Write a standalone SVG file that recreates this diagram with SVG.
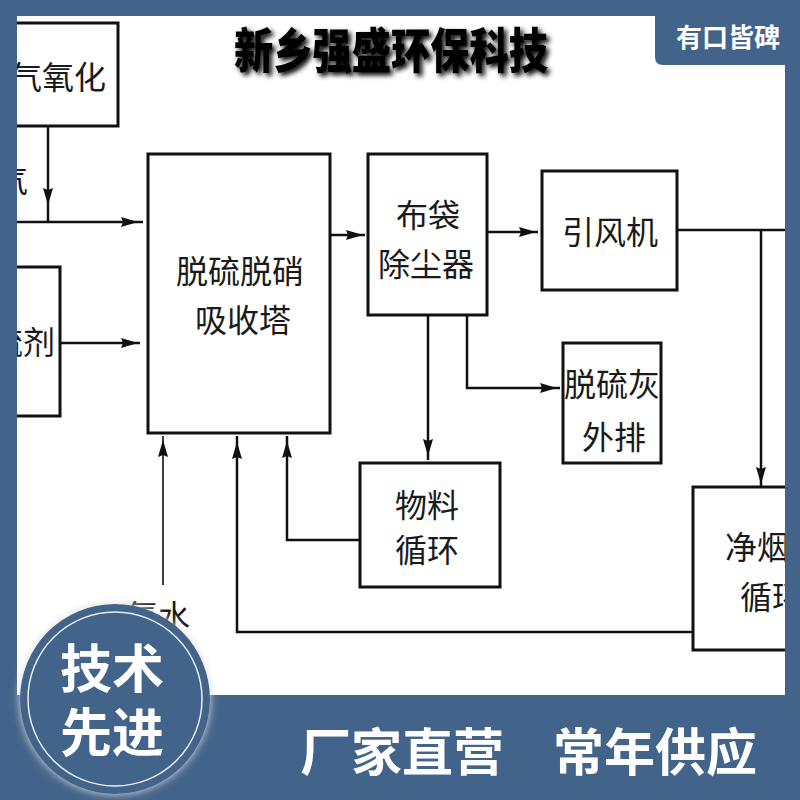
<svg xmlns="http://www.w3.org/2000/svg" xmlns:xlink="http://www.w3.org/1999/xlink" width="800" height="800" viewBox="0 0 800 800">
<defs>
<style>
.bx{fill:#fff;stroke:#111;stroke-width:3}
.ln{fill:none;stroke:#111;stroke-width:2.5}
.thin{fill:none;stroke:#111;stroke-width:1.6}
.t{font-family:"Noto Sans CJK SC","Noto Sans CJK JP",sans-serif;font-size:32px;fill:#1a1a1a;text-anchor:middle}
.w{font-family:"Noto Sans CJK SC","Noto Sans CJK JP",sans-serif;font-weight:700;fill:#fff;text-anchor:middle}
</style>
<path id="ah" d="M0,0 L-17,-5 L-15,0 L-17,5 Z" fill="#111"/>
<clipPath id="wa"><rect x="17" y="16" width="768" height="679"/></clipPath>
<filter id="sh" x="-10%" y="-30%" width="130%" height="170%">
<feGaussianBlur in="SourceAlpha" stdDeviation="2.5"/>
<feOffset dx="3" dy="3" result="b"/>
<feMerge><feMergeNode in="b"/><feMergeNode in="SourceGraphic"/></feMerge>
</filter>
<filter id="glow" x="-20%" y="-20%" width="140%" height="140%">
<feFlood flood-color="#ddd"/>
<feComposite operator="in" in2="SourceAlpha"/>
<feGaussianBlur stdDeviation="4" result="g"/>
<feMerge><feMergeNode in="g"/><feMergeNode in="SourceGraphic"/></feMerge>
</filter>
</defs>
<rect width="800" height="800" fill="#43648a"/>
<rect x="17" y="16" width="768" height="679" fill="#fff"/>
<g clip-path="url(#wa)">
<text x="391" y="68" font-family="'Noto Sans CJK SC',sans-serif" font-weight="900" font-size="48" fill="#000" text-anchor="middle" textLength="314" lengthAdjust="spacingAndGlyphs" filter="url(#sh)">新乡强盛环保科技</text>

<g id="connectors">
<path class="ln" d="M48,126 V222"/>
<path class="ln" d="M17,222 H143"/>
<path class="ln" d="M60,343 H140"/>
<path class="ln" d="M330,235 H365"/>
<path class="ln" d="M487,232 H538"/>
<path class="ln" d="M677,230 H785 M761,230 V486"/>
<path class="ln" d="M428,315 V460"/>
<path class="ln" d="M467,315 V388 H560"/>
<path class="ln" d="M360,540 H287 V436"/>
<path class="ln" d="M693,632 H237 V436"/>
<path class="thin" d="M163,585 V436"/>
<use xlink:href="#ah" transform="translate(48,205) rotate(90)"/>
<use xlink:href="#ah" transform="translate(138,222)"/>
<use xlink:href="#ah" transform="translate(138,343)"/>
<use xlink:href="#ah" transform="translate(363,235)"/>
<use xlink:href="#ah" transform="translate(536,232)"/>
<use xlink:href="#ah" transform="translate(557,388)"/>
<use xlink:href="#ah" transform="translate(428,456) rotate(90)"/>
<use xlink:href="#ah" transform="translate(761,484) rotate(90)"/>
<use xlink:href="#ah" transform="translate(163,440) rotate(-90)"/>
<use xlink:href="#ah" transform="translate(237,442) rotate(-90)"/>
<use xlink:href="#ah" transform="translate(287,441) rotate(-90)"/>
</g>

<g id="n-oxid">
<rect class="bx" x="-10" y="23" width="128" height="103"/>
<text class="t" x="106" y="89" font-size="34" style="text-anchor:end">气氧化</text>
</g>
<g id="n-gas">
<text class="t" x="28" y="192" style="text-anchor:end">气</text>
</g>
<g id="n-agent">
<rect class="bx" x="-10" y="267" width="70" height="149"/>
<text class="t" x="55" y="354" font-size="30" style="text-anchor:end">硫剂</text>
</g>
<g id="n-tower">
<rect class="bx" x="148" y="154" width="182" height="279"/>
<text class="t" x="240" y="283">脱硫脱硝</text>
<text class="t" x="243" y="332">吸收塔</text>
</g>
<g id="n-bag">
<rect class="bx" x="368" y="154" width="119" height="161"/>
<text class="t" x="428" y="227">布袋</text>
<text class="t" x="426" y="276">除尘器</text>
</g>
<g id="n-fan">
<rect class="bx" x="542" y="171" width="135" height="119"/>
<text class="t" x="610" y="244">引风机</text>
</g>
<g id="n-ash">
<rect class="bx" x="563" y="343" width="98" height="120"/>
<text class="t" x="612" y="396">脱硫灰</text>
<text class="t" x="614" y="449">外排</text>
</g>
<g id="n-mat">
<rect class="bx" x="360" y="463" width="140" height="124"/>
<text class="t" x="427" y="517">物料</text>
<text class="t" x="427" y="562">循环</text>
</g>
<g id="n-clean">
<rect class="bx" x="693" y="487" width="120" height="163"/>
<text class="t" x="725" y="559" style="text-anchor:start">净烟气</text>
<text class="t" x="740" y="609" style="text-anchor:start">循环</text>
</g>
<g id="n-ammonia">
<text class="t" x="158" y="628" font-size="24">氨水</text>
</g>
</g>

<path d="M655,0 H800 V65 H663 Q655,65 655,57 Z" fill="#43648a"/>
<text class="w" x="728" y="47" font-size="26">有口皆碑</text>

<g id="badge">
<circle cx="115" cy="699" r="95" fill="#43648a" filter="url(#glow)"/>
<circle cx="115" cy="699" r="87" fill="none" stroke="#e8eef5" stroke-width="1.5"/>
<text class="w" x="112" y="688" font-size="52">技术</text>
<text class="w" x="112" y="752" font-size="52">先进</text>
</g>
<text class="w" x="402" y="771" font-size="51">厂家直营</text>
<text class="w" x="655" y="771" font-size="51">常年供应</text>
</svg>
